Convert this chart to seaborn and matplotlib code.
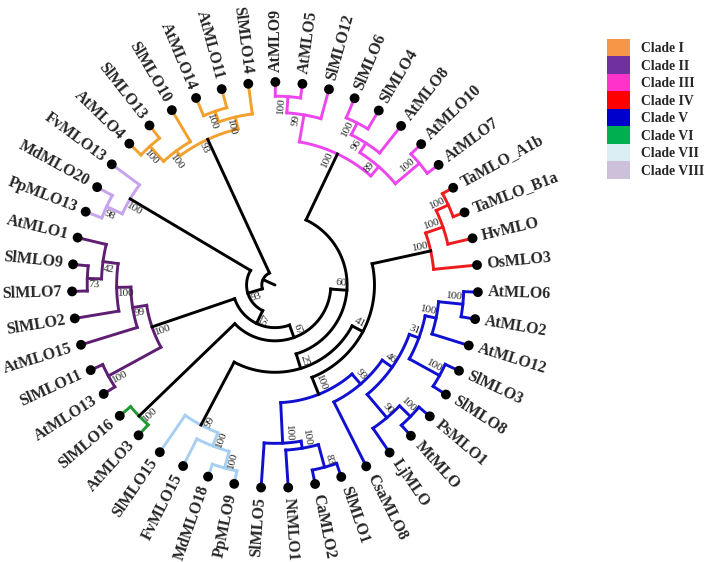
"""Circular MLO phylogeny with clade colouring and bootstrap support."""

import matplotlib

matplotlib.use("Agg")
import matplotlib.pyplot as plt
import numpy as np
import seaborn as sns
from matplotlib.patches import Patch

# leaves in drawing order (clockwise, starting at 12 o'clock)
LEAVES = [
    "AtMLO9", "AtMLO5", "SlMLO12", "SlMLO6", "SlMLO4", "AtMLO8", "AtMLO10", "AtMLO7",
    "TaMLO_A1b", "TaMLO_B1a", "HvMLO", "OsMLO3",
    "AtMLO6", "AtMLO2", "AtMLO12", "SlMLO3", "SlMLO8", "PsMLO1", "MtMLO", "LjMLO",
    "CsaMLO8", "SlMLO1", "CaMLO2", "NtMLO1", "SlMLO5",
    "PpMLO9", "MdMLO18", "FvMLO15", "SlMLO15",
    "AtMLO3", "SlMLO16",
    "AtMLO13", "SlMLO11", "AtMLO15", "SlMLO2", "SlMLO7", "SlMLO9", "AtMLO1",
    "PpMLO13", "MdMLO20", "FvMLO13",
    "AtMLO4", "SlMLO13", "SlMLO10", "AtMLO14", "AtMLO11", "SlMLO14",
]

# internal nodes: (node, child, child, depth as fraction of tip depth, bootstrap)
CLADE_III = [
    ("III_a", "AtMLO9", "AtMLO5", 0.93, 100),
    ("III_b", "III_a", "SlMLO12", 0.85, 99),
    ("III_c", "SlMLO6", "SlMLO4", 0.895, 100),
    ("III_d", "III_c", "AtMLO8", 0.83, 96),
    ("III_e", "AtMLO10", "AtMLO7", 0.93, 100),
    ("III_f", "III_d", "III_e", 0.775, 89),
    ("III", "III_b", "III_f", 0.715, 100),
]
CLADE_IV = [
    ("IV_a", "TaMLO_A1b", "TaMLO_B1a", 0.94, 100),
    ("IV_b", "IV_a", "HvMLO", 0.875, 100),
    ("IV", "IV_b", "OsMLO3", 0.785, 100),
]
CLADE_V = [
    ("V_a", "AtMLO6", "AtMLO2", 0.93, 100),
    ("V_b", "V_a", "AtMLO12", 0.81, 100),
    ("V_c", "SlMLO3", "SlMLO8", 0.925, 100),
    ("V_d", "V_b", "V_c", 0.755, 31),
    ("V_e", "PsMLO1", "MtMLO", 0.93, 100),
    ("V_f", "V_e", "LjMLO", 0.855, 90),
    ("V_g", "V_d", "V_f", 0.705, 46),
    ("V_h", "V_g", "CsaMLO8", 0.645, 93),
    ("V_i", "SlMLO1", "CaMLO2", 0.93, 83),
    ("V_j", "V_i", "NtMLO1", 0.815, 100),
    ("V_k", "V_j", "SlMLO5", 0.78, 100),
    ("V", "V_h", "V_k", 0.58, 100),
]
CLADE_VII = [
    ("VII_a", "PpMLO9", "MdMLO18", 0.935, 100),
    ("VII_b", "VII_a", "FvMLO15", 0.85, 100),
    ("VII", "VII_b", "SlMLO15", 0.78, 99),
]
CLADE_VI = [
    ("VI", "AtMLO3", "SlMLO16", 0.93, 100),
]
CLADE_II = [
    ("II_a", "AtMLO13", "SlMLO11", 0.935, 100),
    ("II_b", "SlMLO7", "SlMLO9", 0.925, 73),
    ("II_c", "II_b", "AtMLO1", 0.855, 42),
    ("II_d", "SlMLO2", "II_c", 0.78, 100),
    ("II_e", "AtMLO15", "II_d", 0.71, 99),
    ("II", "II_a", "II_e", 0.64, 100),
]
CLADE_VIII = [
    ("VIII_a", "PpMLO13", "MdMLO20", 0.915, 98),
    ("VIII", "VIII_a", "FvMLO13", 0.83, 100),
]
CLADE_I = [
    ("I_a", "AtMLO4", "SlMLO13", 0.92, 100),
    ("I_b", "I_a", "SlMLO10", 0.82, 100),
    ("I_c", "AtMLO14", "AtMLO11", 0.905, 100),
    ("I_d", "I_c", "SlMLO14", 0.85, 100),
    ("I", "I_b", "I_d", 0.79, 93),
]
BACKBONE = [
    ("n41", "IV", "V", 0.49, 41),
    ("n25", "n41", "VII", 0.43, 25),
    ("n60", "III", "n25", 0.355, 60),
    ("n67", "n60", "VI", 0.275, 67),
    ("n57", "n67", "II", 0.21, 57),
    ("n93", "n57", "VIII", 0.14, 93),
    ("root", "n93", "I", 0.065, None),
]

CLADES = ["Clade I", "Clade II", "Clade III", "Clade IV",
          "Clade V", "Clade VI", "Clade VII", "Clade VIII"]
LEGEND_COLORS = ["#F79646", "#7030A0", "#FF33CC", "#FF0000",
                 "#0000CC", "#00B050", "#DAEEF3", "#CCC0DA"]
BRANCH_COLORS = ["#F2A12E", "#5E1F72", "#EE46EE", "#EE1C1C",
                 "#1010D0", "#1E9A30", "#A6CFF2", "#C7A3EE"]

W, H = 709, 562
CX, CY, HALF = 275, 285, 260
R_TIP = 203
START_DEG = 89.9
LW = 2.1


def main() -> None:
    sns.set_theme(style="white")
    plt.rcParams["font.family"] = ["Liberation Serif", "DejaVu Serif"]

    fig = plt.figure(figsize=(W / 100, H / 100), dpi=100)
    ax = fig.add_axes([(CX - HALF) / W, 1 - (CY + HALF) / H, 2 * HALF / W, 2 * HALF / H],
                      projection="polar")
    ax.set_ylim(0, HALF)
    ax.set_axis_off()

    step = 360 / len(LEAVES)
    theta = {leaf: np.deg2rad(START_DEG - i * step) for i, leaf in enumerate(LEAVES)}
    depth = {leaf: 1.0 for leaf in LEAVES}

    groups = [(CLADE_I, 0), (CLADE_II, 1), (CLADE_III, 2), (CLADE_IV, 3),
              (CLADE_V, 4), (CLADE_VI, 5), (CLADE_VII, 6), (CLADE_VIII, 7), (BACKBONE, None)]

    supports = []
    for nodes, idx in groups:
        col = "black" if idx is None else BRANCH_COLORS[idx]
        for name, a, b, d, boot in nodes:
            theta[name] = (theta[a] + theta[b]) / 2
            depth[name] = d
            arc = np.linspace(theta[a], theta[b], 60)
            ax.plot(arc, np.full(arc.size, d * R_TIP), color=col, lw=LW,
                    solid_capstyle="projecting", zorder=2)
            for ch in (a, b):
                ax.plot([theta[ch], theta[ch]], [d * R_TIP, depth[ch] * R_TIP], color=col,
                        lw=LW, solid_capstyle="projecting", zorder=2)
            if boot is not None:
                supports.append((theta[name], d * R_TIP, str(boot)))

    # root stub
    ax.plot([theta["root"]] * 2, [0, depth["root"] * R_TIP], color="black", lw=LW, zorder=2)

    # bootstrap values sit on the incoming branch, just inside the node
    for t, r, txt in supports:
        deg = np.rad2deg(t)
        nudge = 2.0 / max(r, 1)
        if np.cos(t) >= 0:
            ax.text(t + nudge, r - 1, txt, rotation=deg, ha="right", va="bottom",
                    rotation_mode="anchor", fontsize=8, zorder=4)
        else:
            ax.text(t + nudge, r - 1, txt, rotation=deg - 180, ha="left", va="top",
                    rotation_mode="anchor", fontsize=8, zorder=4)

    tip_t = np.array([theta[leaf] for leaf in LEAVES])
    sns.scatterplot(x=tip_t, y=np.full(tip_t.size, R_TIP), ax=ax, color="black",
                    s=50, edgecolor="none", legend=False, zorder=5, clip_on=False)

    for leaf in LEAVES:
        t = theta[leaf]
        deg = np.rad2deg(t)
        if np.cos(t) >= 0:
            ax.text(t, R_TIP + 10, leaf, rotation=deg, ha="left", va="center",
                    rotation_mode="anchor", fontsize=11.5, fontweight="bold")
        else:
            ax.text(t, R_TIP + 10, leaf, rotation=deg - 180, ha="right", va="center",
                    rotation_mode="anchor", fontsize=11.5, fontweight="bold")

    handles = [Patch(facecolor=c, edgecolor="none", label=lab)
               for c, lab in zip(LEGEND_COLORS, CLADES)]
    fig.legend(handles=handles, loc="upper left", bbox_to_anchor=(607 / W, 1 - 39 / H),
               frameon=False, borderpad=0, borderaxespad=0, labelspacing=0,
               handlelength=1.7, handleheight=1.6, handletextpad=0.8,
               prop={"family": ["Liberation Serif"], "weight": "bold", "size": 9.8})

    fig.savefig("out.png", dpi=100)
    plt.close(fig)


if __name__ == "__main__":
    main()
